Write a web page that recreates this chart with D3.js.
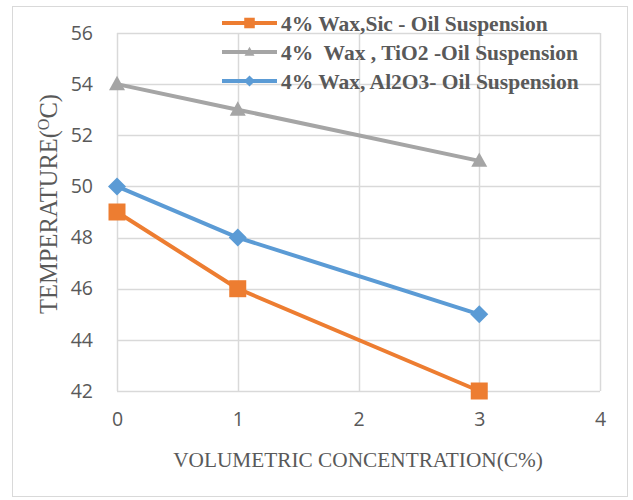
<!DOCTYPE html>
<html><head><meta charset="utf-8">
<script src="https://cdn.jsdelivr.net/npm/d3@7"></script>
<style>body{margin:0;background:#fff}</style>
</head><body>
<svg id="c" width="633" height="500"></svg>
<script>
const xValues = [0, 1, 3];
const sicValues = [49, 46, 42];
const tio2Values = [54, 53, 51];
const al2o3Values = [50, 48, 45];
const seriesNames = ["4% Wax,Sic - Oil Suspension", "4%  Wax , TiO2 -Oil Suspension", "4% Wax, Al2O3- Oil Suspension"];
const seriesColors = ["#ED7D31", "#A5A5A5", "#5B9BD5"];
const seriesMarkers = ["square", "triangle", "diamond"];
const xTicks = [0, 1, 2, 3, 4];
const yTicks = [42, 44, 46, 48, 50, 52, 54, 56];

const series = [sicValues, tio2Values, al2o3Values].map((vals, i) => ({
  name: seriesNames[i], color: seriesColors[i], marker: seriesMarkers[i],
  points: vals.map((v, j) => ({x: xValues[j], y: v}))
}));

const svg = d3.select("#c");
svg.append("rect").attr("x", 12.5).attr("y", 6.5).attr("width", 615).attr("height", 490)
  .attr("fill", "#fff").attr("stroke", "#d9d9d9").attr("stroke-width", 1);

const x = d3.scaleLinear().domain([0, 4]).range([117, 600]);
const y = d3.scaleLinear().domain([42, 56]).range([391, 33]);

const g = svg.append("g");
g.selectAll(".hg").data(yTicks).join("line")
  .attr("x1", x(0)).attr("x2", x(4)).attr("y1", d => Math.round(y(d)) + 0.5).attr("y2", d => Math.round(y(d)) + 0.5)
  .attr("stroke", "#d9d9d9").attr("stroke-width", 1.5);
g.selectAll(".vg").data(xTicks).join("line")
  .attr("y1", y(42)).attr("y2", y(56)).attr("x1", d => Math.round(x(d)) + 0.5).attr("x2", d => Math.round(x(d)) + 0.5)
  .attr("stroke", "#d9d9d9").attr("stroke-width", 1.5);

const yAxis = d3.axisLeft(y).tickValues(yTicks).tickSize(0).tickPadding(24).tickFormat(d3.format("d"));
const ya = svg.append("g").attr("transform", `translate(${x(0)},0)`).call(yAxis);
ya.select(".domain").remove();
ya.selectAll("text").attr("font-family", "Open Sans").attr("font-size", 19.5).attr("fill", "#595959");

const xAxis = d3.axisBottom(x).tickValues(xTicks).tickSize(0).tickPadding(21).tickFormat(d3.format("d"));
const xa = svg.append("g").attr("transform", `translate(0,${y(42)})`).call(xAxis);
xa.select(".domain").remove();
xa.selectAll("text").attr("font-family", "Open Sans").attr("font-size", 19.5).attr("fill", "#595959");

const line = d3.line().x(d => x(d.x)).y(d => y(d.y));
function markerPath(type, s) {
  const h = s / 2;
  if (type === "square") return `M${-h},${-h}H${h}V${h}H${-h}Z`;
  if (type === "diamond") return `M0,${-h}L${h},0L0,${h}L${-h},0Z`;
  return `M0,${-h * 1.05}L${h},${h * 0.75}L${-h},${h * 0.75}Z`;
}
const markerSize = {square: 17, triangle: 16, diamond: 18};

series.forEach(s => {
  svg.append("path").datum(s.points).attr("d", line).attr("fill", "none")
    .attr("stroke", s.color).attr("stroke-width", 4).attr("stroke-linejoin", "round");
  svg.selectAll(null).data(s.points).join("path")
    .attr("transform", d => `translate(${x(d.x)},${y(d.y)})`)
    .attr("d", markerPath(s.marker, markerSize[s.marker]))
    .attr("fill", s.color);
});

// legend
const legY = [23, 52, 81];
series.forEach((s, i) => {
  const lg = svg.append("g").attr("transform", `translate(222,${legY[i]})`);
  lg.append("line").attr("x1", 0).attr("x2", 55).attr("y1", 0).attr("y2", 0)
    .attr("stroke", s.color).attr("stroke-width", 4);
  lg.append("path").attr("transform", "translate(27.5,0)")
    .attr("d", markerPath(s.marker, markerSize[s.marker] * 0.62))
    .attr("fill", s.color);
  lg.append("text").attr("x", 59).attr("y", 0).attr("dy", "0.35em")
    .attr("font-family", "Liberation Serif").attr("font-weight", "bold").attr("font-size", 21.5)
    .attr("fill", "#595959").attr("xml:space", "preserve").style("white-space", "pre").text(s.name);
});

// axis titles
const yt = svg.append("text").attr("transform", "translate(57,204) rotate(-90)")
  .attr("text-anchor", "middle").attr("font-family", "Liberation Serif").attr("font-size", 24.5).attr("fill", "#595959");
yt.append("tspan").text("TEMPERATURE(");
yt.append("tspan").attr("font-size", 16).attr("dy", -8).text("O");
yt.append("tspan").attr("dy", 8).text("C)");

svg.append("text").attr("x", 358).attr("y", 467).attr("text-anchor", "middle")
  .attr("font-family", "Liberation Serif").attr("font-size", 21.3).attr("fill", "#595959")
  .text("VOLUMETRIC CONCENTRATION(C%)");
</script>
</body></html>
